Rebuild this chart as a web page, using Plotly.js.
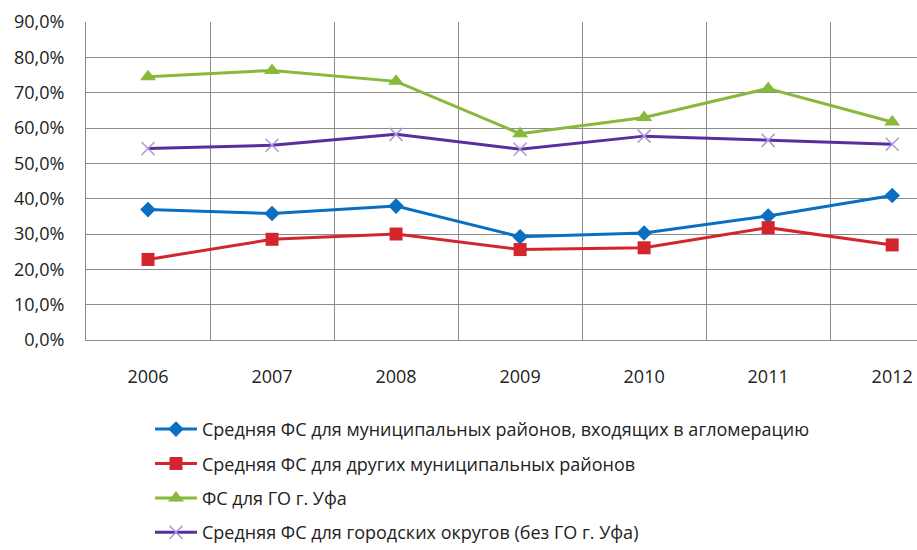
<!DOCTYPE html>
<html><head><meta charset="utf-8">
<script src="https://cdn.plot.ly/plotly-3.0.1.min.js"></script>
<style>body{margin:0;background:#fff}#c{width:917px;height:550px}</style>
</head><body><div id="c"></div>
<script>
var years = ['2006','2007','2008','2009','2010','2011','2012'];
var names = [
  'Средняя ФС для муниципальных районов, входящих в агломерацию',
  'Средняя ФС для других муниципальных районов',
  'ФС для ГО г. Уфа',
  'Средняя ФС для городских округов (без ГО г. Уфа)'
];
var agglomeration = [0.369, 0.358, 0.379, 0.292, 0.303, 0.351, 0.409];
var otherDistricts = [0.228, 0.285, 0.300, 0.256, 0.261, 0.318, 0.269];
var ufa = [0.745, 0.763, 0.732, 0.584, 0.630, 0.712, 0.617];
var cityDistricts = [0.542, 0.551, 0.582, 0.540, 0.577, 0.565, 0.554];

var traces = [
  {y: agglomeration, name: names[0], line: {color: '#0A6FC0', width: 3},
   marker: {symbol: 'diamond', size: 12, color: '#0A6FC0'}},
  {y: otherDistricts, name: names[1], line: {color: '#D3262C', width: 3},
   marker: {symbol: 'square', size: 13, color: '#D3262C'}},
  {y: ufa, name: names[2], line: {color: '#88B83C', width: 3},
   marker: {symbol: 'triangle-up', size: 14, color: '#88B83C'}},
  {y: cityDistricts, name: names[3], line: {color: '#5A2E9C', width: 3},
   marker: {symbol: 'x-thin-open', size: 13, color: '#A89AD8', line: {width: 1.5, color: '#A89AD8'}}}
].map(function (t, i) {
  t.x = years; t.type = 'scatter'; t.mode = 'lines+markers'; t.legendgroup = 'g' + i;
  return t;
});

var layout = {
  width: 917, height: 550,
  margin: {l: 86, r: 0, t: 22, b: 210, autoexpand: false},
  paper_bgcolor: '#fff', plot_bgcolor: '#fff',
  separators: ', ',
  font: {family: 'Open Sans, sans-serif', size: 18, color: '#333'},
  xaxis: {
    type: 'category', range: [-0.5, 6.2], tickson: 'boundaries',
    showgrid: true, gridcolor: '#8c8c8c', gridwidth: 1,
    showline: true, linecolor: '#8c8c8c', ticks: '', tickangle: 0,
    ticklabelstandoff: 20, zeroline: false, fixedrange: true,
    tickfont: {size: 18, color: '#222'}
  },
  yaxis: {
    range: [0, 0.9], dtick: 0.1, tickformat: '.1%',
    showgrid: true, gridcolor: '#8c8c8c', gridwidth: 1,
    showline: true, linecolor: '#8c8c8c', ticks: '', zeroline: false,
    ticklabelstandoff: 17, tickfont: {size: 18, color: '#222'}
  },
  showlegend: true,
  legend: {
    orientation: 'v', x: 0.077, xanchor: 'left', y: -0.223, yanchor: 'top',
    traceorder: 'grouped', tracegroupgap: 8,
    font: {size: 18, color: '#222'}, itemwidth: 42, bgcolor: 'rgba(0,0,0,0)'
  }
};
Plotly.newPlot('c', traces, layout, {displayModeBar: false, staticPlot: true});
</script></body></html>
